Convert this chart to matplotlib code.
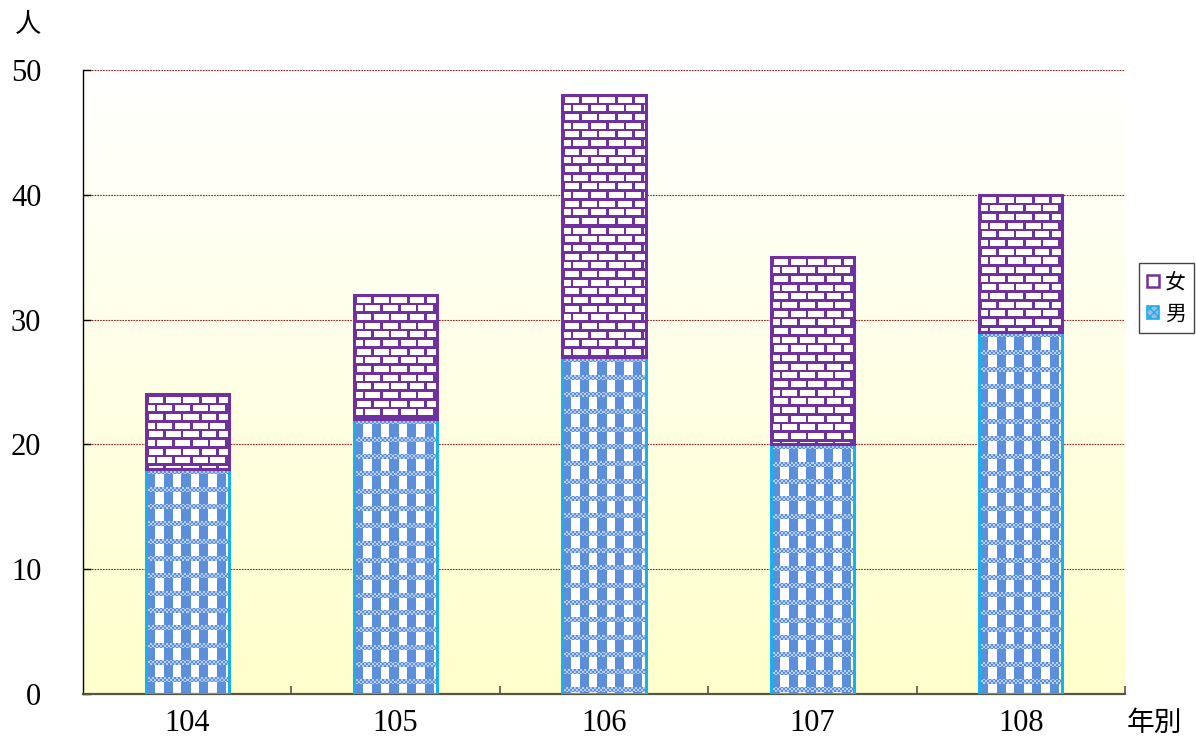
import numpy as np
import matplotlib
matplotlib.use('Agg')
import matplotlib.pyplot as plt
from matplotlib.patches import Patch
from matplotlib.colors import to_rgb

years = ['104', '105', '106', '107', '108']
male = [18, 22, 27, 20, 29]
female = [6, 10, 21, 15, 11]
yticks = [0, 10, 20, 30, 40, 50]

PURPLE = '#7030A0'
CYAN = '#19B2E6'
BLUE = '#5B8FDB'
LIGHTBLUE = '#B9CFF3'
GRID = '#9A1F1F'

NUMFONT = 'Liberation Serif'
CJKFONT = ['Noto Sans CJK TC', 'DejaVu Sans']

W, H, DPI = 1196, 741, 100
fig = plt.figure(figsize=(W / DPI, H / DPI), dpi=DPI)
ax = fig.add_axes([83 / W, 47 / H, 1042 / W, 624 / H])


def brick(h, w):
    # purple mortar, white bricks
    yy, xx = np.mgrid[0:h, 0:w] + 0.5
    p = 26 / 3
    row = np.floor(yy / p)
    mort = (yy - row * p) < 2.6
    off = (row % 2) * p
    mort |= ((xx + off) % (2 * p)) < 2.6
    img = np.ones((h, w, 3))
    img[mort] = to_rgb(PURPLE)
    return img


def checker(h, w):
    # blue blocks with a fine checker band
    yy, xx = np.mgrid[0:h, 0:w]
    p = 52 / 3
    band = (yy % p) < 5
    col = (xx % p) < 9
    img = np.ones((h, w, 3))
    img[col & ~band] = to_rgb(BLUE)
    fine = ((xx // 2 + yy // 2) % 2) == 0
    img[band & fine] = to_rgb(BLUE)
    img[band & ~fine] = to_rgb(LIGHTBLUE)
    return img


x = np.arange(len(years))

# background gradient
grad = np.ones((256, 1, 3))
grad[:, 0, 2] = np.linspace(1.0, 0.80, 256)
ax.imshow(grad, extent=(0, 1, 0, 1), transform=ax.transAxes, aspect='auto',
          interpolation='bilinear', zorder=0)

ax.set_xlim(-0.5, len(years) - 0.5)
ax.set_ylim(0, 50)

mb = ax.bar(x, male, width=0.4, facecolor='none', edgecolor=CYAN,
            linewidth=2.2, zorder=3)
fb = ax.bar(x, female, bottom=male, width=0.4, facecolor='none',
            edgecolor=PURPLE, linewidth=2.2, zorder=3)

for bars, fn in ((mb, checker), (fb, brick)):
    for p in bars.patches:
        bb = p.get_window_extent()
        w = max(int(round(bb.width)), 1)
        h = max(int(round(bb.height)), 1)
        ax.imshow(fn(h, w), extent=(p.get_x(), p.get_x() + p.get_width(),
                                   p.get_y(), p.get_y() + p.get_height()),
                  aspect='auto', interpolation='nearest', zorder=2)

ax.set_xlim(-0.5, len(years) - 0.5)
ax.set_ylim(0, 50)
ax.set_aspect('auto')

# grid
ax.set_yticks(yticks)
ax.yaxis.grid(True, color=GRID, linestyle=(0, (1.5, 1)), linewidth=0.8)
ax.set_axisbelow(True)
ax.set_yticklabels([str(v) for v in yticks], fontfamily=NUMFONT, fontsize=22)
ax.tick_params(axis='y', direction='in', length=6, width=1, pad=30, colors='black')

ax.set_xticks(x + 0.5, minor=False)
ax.set_xticklabels([])
ax.set_xticks(x, minor=True)
ax.set_xticklabels(years, minor=True, fontfamily=NUMFONT, fontsize=22)
ax.tick_params(axis='x', which='major', direction='in', length=6, width=1.2,
               color='#555544')
ax.tick_params(axis='x', which='minor', length=0, pad=11)

for s in ('top', 'right'):
    ax.spines[s].set_visible(False)
ax.spines['left'].set_color('black')
ax.spines['left'].set_linewidth(1)
ax.spines['bottom'].set_color('#555544')
ax.spines['bottom'].set_linewidth(1.6)

fig.text(28 / W, 1 - 25 / H, '人', family=CJKFONT, fontsize=19,
         ha='center', va='center')
fig.text(1154 / W, 1 - 723 / H, '年別', family=CJKFONT, fontsize=20,
         ha='center', va='center')

handles = [Patch(facecolor='white', edgecolor=PURPLE, hatch='-', linewidth=1.8),
           Patch(facecolor='#9DBBEA', edgecolor=CYAN, hatch='xxxx', linewidth=1.2)]
leg = fig.legend(handles, ['女', '男'], loc='upper left',
                 bbox_to_anchor=(1139 / W, 1 - 263 / H), bbox_transform=fig.transFigure,
                 borderaxespad=0, fancybox=False, framealpha=1, edgecolor='#444444',
                 prop={'family': CJKFONT, 'size': 15},
                 handlelength=0.55, handleheight=0.55, handletextpad=0.3,
                 borderpad=0.4, labelspacing=0.45)
leg.get_frame().set_linewidth(1)

fig.savefig('out.png', dpi=DPI)
